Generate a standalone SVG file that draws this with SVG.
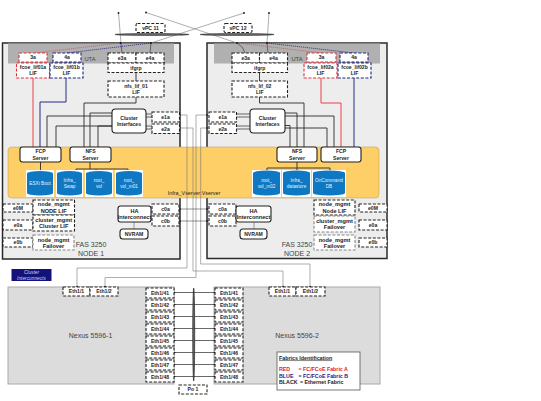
<svg xmlns="http://www.w3.org/2000/svg" width="541" height="401" viewBox="0 0 541 401">
<style>
text{font-family:"Liberation Sans",Arial,sans-serif;font-size:5.1px;font-weight:bold;fill:#222;text-anchor:middle}
.d rect,rect.d{fill:#fff;stroke:#222;stroke-width:1.1;stroke-dasharray:3 1.6}
.r rect{stroke:#e0303c}
.b rect{stroke:#22227f}
.g rect{stroke:#888}
.s rect{fill:#fff;stroke:#222;stroke-width:1.1}
.p{fill:#ededed;stroke:#2a2a2a;stroke-width:1.5}
.u{fill:#b0b0b0}
.t{font-size:7px;font-weight:normal;fill:#444}
.m{font-size:5.6px}
.l{font-size:5.3px;text-anchor:start}
.w{fill:#e8f2fb;font-weight:normal;font-size:4.7px}
.cy{fill:#0e78c2}
.bg{fill:#fff}
.k{fill:none;stroke:#2a2a2a;stroke-width:.9}
.rl{fill:none;stroke:#e8404a;stroke-width:1}
.bl{fill:none;stroke:#2a2a85;stroke-width:1}
.tn{fill:none;stroke:#777;stroke-width:.6}
.gl{fill:none;stroke:#777;stroke-width:.7}
.rd{fill:none;stroke:#e0505a;stroke-width:.8;stroke-dasharray:1.2 .8}
.bd{fill:none;stroke:#2a2a85;stroke-width:.8;stroke-dasharray:1.2 .8}
.dot{fill:#111}
</style>
<g id="chassis">
<rect class="p" x="2.5" y="43" width="177.5" height="216"/>
<rect class="p" x="207" y="43" width="180" height="215.5"/>
<rect class="u" x="8" y="43.5" width="166" height="20"/>
<rect class="u" x="214" y="43.5" width="166" height="20"/>
<text x="90" y="60.5" style="font-size:5.8px;font-weight:normal;fill:#444">UTA</text>
<text x="297" y="60.5" style="font-size:5.8px;font-weight:normal;fill:#444">UTA</text>
<rect x="8" y="147" width="371" height="51" rx="3.5" fill="#fdcf66" stroke="#b89a50" stroke-width=".5"/>
<text x="194" y="195" style="font-weight:normal;font-size:5.4px">Infra_Vserver:Vserver</text>
<text class="t" x="91" y="246.5">FAS 3250</text>
<text class="t" x="91" y="255.5">NODE 1</text>
<text class="t" x="297" y="246.5">FAS 3250</text>
<text class="t" x="297" y="255.5">NODE 2</text>
<rect x="8" y="287" width="166" height="97" fill="#dcdcdc" stroke="#aaa"/>
<rect x="214" y="287" width="166" height="97" fill="#dcdcdc" stroke="#aaa"/>
<text class="t" x="90.5" y="337.5">Nexus 5596-1</text>
<text class="t" x="297" y="337.5">Nexus 5596-2</text>
</g>
<g id="connectors">
<path class="tn" d="M118.5 13L121 43M146 12.5L237 43M244 13L151 43M269 13L267 43"/>
<path class="k" d="M121 43L122 53M151 43L150 53M237 43Q244 47 245 53M267 43L268 53" style="stroke-width:.6"/>
<path class="rd" d="M120 43L35 53M237 43L322 53"/>
<path class="bd" d="M151 43L67 53M267 43L354 53"/>
<ellipse cx="152" cy="34.5" rx="37" ry="1" fill="#666" stroke="#222" stroke-width=".5"/>
<ellipse cx="237" cy="34.5" rx="37" ry="1" fill="#666" stroke="#222" stroke-width=".5"/>
<path class="rl" d="M33 78V147M321 78V103H341V147"/>
<path class="bl" d="M66 78V102H40V147M354 78V147"/>
<path class="k" d="M136 72V81M136 97V103H84V147M112 116H47V147M112 126H56V147M112 113H90V147M112 126H98V147"/>
<path class="k" d="M259.500 72V81M259.500 97V103H304V147M285 113H297V147M285 116H334V147M285 125.500H290V147M285 128H327V147"/>
<path class="k" d="M146 114H152M146 117H152M146 126H152M146 129H152M236 114H250M236 117H250M236 126H250M236 129H250" style="stroke-width:.7"/>
<path class="k" d="M40.500 162V171M90 162V169M76 171V169H128V171M96 169V171"/>
<path class="k" d="M297 162V168M267 170V168H330V170M297 168V170"/>
<path class="tn" d="M180 115H187V268H77V287M180 128H193V271H283V287M207 115H196V277.500H105V287M207 128H200.700V264H310V287"/>
<path class="k" d="M180 209H209M180 221H209" style="stroke-width:.5"/>
<path class="gl" d="M134 222V229M254 222V229"/>
<path class="k" d="M174 292.500H215M174 304.500H215M174 316.500H215M174 328.500H215M174 340.500H215M174 352.500H215M174 364.500H215M174 376.500H215" style="stroke-width:.7"/>
<ellipse cx="193.700" cy="334.500" rx="1" ry="46.500" fill="#666" stroke="#111" stroke-width=".6"/>
<g class="dot"><circle cx="118.500" cy="13" r=".9"/><circle cx="146" cy="12.500" r=".9"/><circle cx="244" cy="13" r=".9"/><circle cx="269" cy="13" r=".9"/><circle cx="120.500" cy="43" r=".9"/><circle cx="151" cy="43" r=".9"/><circle cx="237" cy="43" r=".9"/><circle cx="267" cy="43" r=".9"/><circle cx="180" cy="115" r=".8"/><circle cx="180" cy="128" r=".8"/><circle cx="207" cy="115" r=".8"/><circle cx="207" cy="128" r=".8"/><circle cx="180" cy="209" r=".8"/><circle cx="180" cy="221" r=".8"/><circle cx="207" cy="209" r=".8"/><circle cx="207" cy="221" r=".8"/><circle cx="174.500" cy="292.500" r=".8"/><circle cx="174.500" cy="304.500" r=".8"/><circle cx="174.500" cy="316.500" r=".8"/><circle cx="174.500" cy="328.500" r=".8"/><circle cx="174.500" cy="340.500" r=".8"/><circle cx="174.500" cy="352.500" r=".8"/><circle cx="174.500" cy="364.500" r=".8"/><circle cx="174.500" cy="376.500" r=".8"/><circle cx="214.500" cy="292.500" r=".8"/><circle cx="214.500" cy="304.500" r=".8"/><circle cx="214.500" cy="316.500" r=".8"/><circle cx="214.500" cy="328.500" r=".8"/><circle cx="214.500" cy="340.500" r=".8"/><circle cx="214.500" cy="352.500" r=".8"/><circle cx="214.500" cy="364.500" r=".8"/><circle cx="214.500" cy="376.500" r=".8"/><circle cx="77" cy="286.500" r=".8"/><circle cx="105" cy="286.500" r=".8"/><circle cx="283" cy="286.500" r=".8"/><circle cx="310" cy="286.500" r=".8"/></g>
</g>
<g id="vpc11" class="d"><rect x="136" y="23.500" width="29" height="9" rx="1.500"/><text x="150.500" y="29.800">vPC 11</text></g>
<g id="vpc12" class="d"><rect x="224" y="23.500" width="28" height="9" rx="1.500"/><text x="238" y="29.800">vPC 12</text></g>
<g id="n1-3a" class="d r"><rect x="19" y="53" width="28" height="9"/><text x="33" y="59.300">3a</text></g>
<g id="n1-4a" class="d b"><rect x="53" y="53" width="28" height="9"/><text x="67" y="59.300">4a</text></g>
<g id="n1-fcoe-a" class="d r"><rect x="16.500" y="63" width="33" height="15"/><text x="33" y="69">fcoe_lif01a</text><text x="33" y="75">LIF</text></g>
<g id="n1-fcoe-b" class="d b"><rect x="50" y="63" width="33" height="15"/><text x="66.500" y="69">fcoe_lif01b</text><text x="66.500" y="75">LIF</text></g>
<g id="n1-e3a" class="d"><rect x="108" y="53" width="28" height="10"/><text x="122" y="59.800">e3a</text></g>
<g id="n1-e4a" class="d"><rect x="136" y="53" width="28" height="10"/><text x="150" y="59.800">e4a</text></g>
<g id="n1-ifgrp" class="d"><rect x="108" y="63" width="56" height="9.500"/><text x="136" y="69.500">ifgrp</text></g>
<g id="n1-nfslif" class="d"><rect x="108" y="81" width="56" height="16"/><text x="136" y="87.500">nfs_lif_01</text><text x="136" y="94">LIF</text></g>
<g id="n1-cluster" class="s"><rect x="112" y="109" width="34" height="24" rx="3.500"/><text x="129" y="119.500">Cluster</text><text x="129" y="125.500">Interfaces</text></g>
<g id="n1-e1a" class="d"><rect x="152" y="112" width="27.500" height="10"/><text x="165.500" y="118.800">e1a</text></g>
<g id="n1-e2a" class="d"><rect x="152" y="124" width="27.500" height="9.500"/><text x="165.500" y="130.500">e2a</text></g>
<g id="n1-fcp" class="s"><rect x="20" y="147" width="41" height="15" rx="2.500"/><text x="40.500" y="153">FCP</text><text x="40.500" y="159.500">Server</text></g>
<g id="n1-nfs" class="s"><rect x="70" y="147" width="41" height="15" rx="2.500"/><text x="90.500" y="153">NFS</text><text x="90.500" y="159.500">Server</text></g>
<g id="n1-boot"><rect class="bg" x="26" y="170" width="28" height="27"/><path class="cy" d="M27 173.500a13 2.500 0 0 1 26 0V193a13 2.500 0 0 1-26 0Z"/><text class="w" x="40" y="184.500">ESXi Boot</text></g>
<g id="n1-swap"><rect class="bg" x="56" y="170" width="27" height="27"/><path class="cy" d="M57 173.500a12.500 2.500 0 0 1 25 0V193a12.500 2.500 0 0 1-25 0Z"/><text class="w" x="69.500" y="181.500">Infra_</text><text class="w" x="69.500" y="187.500">Swap</text></g>
<g id="n1-root"><rect class="bg" x="85" y="170" width="28" height="27"/><path class="cy" d="M86 173.500a13 2.500 0 0 1 26 0V193a13 2.500 0 0 1-26 0Z"/><text class="w" x="99" y="181.500">root_</text><text class="w" x="99" y="187.500">vol</text></g>
<g id="n1-m01"><rect class="bg" x="115" y="170" width="28" height="27"/><path class="cy" d="M116 173.500a13 2.500 0 0 1 26 0V193a13 2.500 0 0 1-26 0Z"/><text class="w" x="129" y="181.500">root_</text><text class="w" x="129" y="187.500">vol_m01</text></g>
<g id="n1-e0m" class="d"><rect x="3" y="204" width="30" height="8"/><text x="18" y="209.800">e0M</text></g>
<g id="n1-e0a" class="d"><rect x="3" y="220" width="30" height="10"/><text x="18" y="226.800">e0a</text></g>
<g id="n1-e0b" class="d"><rect x="3" y="238" width="30" height="9"/><text x="18" y="244.300">e0b</text></g>
<g id="n1-mgmt" class="d"><rect x="33" y="200" width="41.500" height="15"/><text class="m" x="53.700" y="206">node_mgmt</text><text class="m" x="53.700" y="212.500">NODE LIF</text></g>
<g id="n1-cmgmt" class="d"><rect x="33" y="215" width="41.500" height="16"/><text class="m" x="53.700" y="221.500">cluster_mgmt</text><text class="m" x="53.700" y="228">Cluster LIF</text></g>
<g id="n1-fail" class="d g"><rect x="33" y="235" width="41" height="15"/><text class="m" x="53.500" y="241.500">node_mgmt</text><text class="m" x="53.500" y="248">Failover</text></g>
<g id="n1-ha" class="s"><rect x="118" y="206" width="33" height="16" rx="2.500"/><text class="m" x="134.500" y="212.500">HA</text><text class="m" x="134.500" y="219">Interconnect</text></g>
<g id="n1-nvram" class="s"><rect x="120" y="229" width="28" height="10" rx="3"/><text x="134" y="236">NVRAM</text></g>
<g id="n1-c0a" class="d"><rect x="152" y="204" width="27" height="10"/><text x="165.500" y="210.800">c0a</text></g>
<g id="n1-c0b" class="d"><rect x="152" y="216" width="27" height="10"/><text x="165.500" y="222.800">c0b</text></g>
<g id="n2-3a" class="d r"><rect x="307" y="53" width="29" height="9"/><text x="321.500" y="59.300">3a</text></g>
<g id="n2-4a" class="d b"><rect x="340" y="53" width="28" height="9"/><text x="354" y="59.300">4a</text></g>
<g id="n2-fcoe-a" class="d r"><rect x="304" y="63" width="33" height="15"/><text x="320.500" y="69">fcoe_lif02a</text><text x="320.500" y="75">LIF</text></g>
<g id="n2-fcoe-b" class="d b"><rect x="338" y="63" width="33" height="15"/><text x="354.500" y="69">fcoe_lif02b</text><text x="354.500" y="75">LIF</text></g>
<g id="n2-e3a" class="d"><rect x="232" y="53" width="27.500" height="10"/><text x="245.700" y="59.800">e3a</text></g>
<g id="n2-e4a" class="d"><rect x="259.500" y="53" width="28" height="10"/><text x="273.500" y="59.800">e4a</text></g>
<g id="n2-ifgrp" class="d"><rect x="232" y="63" width="55.500" height="9.500"/><text x="259.700" y="69.500">ifgrp</text></g>
<g id="n2-nfslif" class="d"><rect x="232" y="81" width="55.500" height="16"/><text x="259.700" y="87.500">nfs_lif_02</text><text x="259.700" y="94">LIF</text></g>
<g id="n2-cluster" class="s"><rect x="250" y="109" width="35" height="24" rx="3.500"/><text x="267.500" y="119.500">Cluster</text><text x="267.500" y="125.500">Interfaces</text></g>
<g id="n2-e1a" class="d"><rect x="209" y="112" width="27.500" height="10"/><text x="222.700" y="118.800">e1a</text></g>
<g id="n2-e2a" class="d"><rect x="209" y="124" width="27.500" height="9.500"/><text x="222.700" y="130.500">e2a</text></g>
<g id="n2-nfs" class="s"><rect x="277" y="147" width="40" height="15" rx="2.500"/><text x="297" y="153">NFS</text><text x="297" y="159.500">Server</text></g>
<g id="n2-fcp" class="s"><rect x="321" y="147" width="40" height="15" rx="2.500"/><text x="341" y="153">FCP</text><text x="341" y="159.500">Server</text></g>
<g id="n2-m02"><rect class="bg" x="252" y="170" width="29" height="27"/><path class="cy" d="M253 173a13.500 2.500 0 0 1 27 0V193a13.500 2.500 0 0 1-27 0Z"/><text class="w" x="266.500" y="181.500">root_</text><text class="w" x="266.500" y="187.500">vol_m02</text></g>
<g id="n2-ds"><rect class="bg" x="282" y="170" width="29" height="27"/><path class="cy" d="M283 173a13.500 2.500 0 0 1 27 0V193a13.500 2.500 0 0 1-27 0Z"/><text class="w" x="296.500" y="181.500">Infra_</text><text class="w" x="296.500" y="187.500">datastore</text></g>
<g id="n2-db"><rect class="bg" x="312" y="170" width="34" height="27"/><path class="cy" d="M313 173a16 2.500 0 0 1 32 0V193a16 2.500 0 0 1-32 0Z"/><text class="w" x="329" y="181.500">OnCommand</text><text class="w" x="329" y="187.500">DB</text></g>
<g id="n2-c0a" class="d"><rect x="209" y="204" width="27" height="10"/><text x="222.500" y="210.800">c0a</text></g>
<g id="n2-c0b" class="d"><rect x="209" y="216" width="27" height="10"/><text x="222.500" y="222.800">c0b</text></g>
<g id="n2-ha" class="s"><rect x="236" y="206" width="35" height="16" rx="2.500"/><text class="m" x="253.500" y="212.500">HA</text><text class="m" x="253.500" y="219">Interconnect</text></g>
<g id="n2-nvram" class="s"><rect x="240" y="229" width="27" height="10" rx="3"/><text x="253.500" y="236">NVRAM</text></g>
<g id="n2-mgmt" class="d"><rect x="314" y="200" width="41" height="15"/><text class="m" x="334.500" y="206">node_mgmt</text><text class="m" x="334.500" y="212.500">Node LIF</text></g>
<g id="n2-cmgmt" class="d g"><rect x="314" y="216" width="41" height="16"/><text class="m" x="334.500" y="222.500">cluster_mgmt</text><text class="m" x="334.500" y="229">Failover</text></g>
<g id="n2-fail" class="d g"><rect x="314" y="235" width="41" height="15"/><text class="m" x="334.500" y="241.500">node_mgmt</text><text class="m" x="334.500" y="248">Failover</text></g>
<g id="n2-e0m" class="d"><rect x="359" y="204" width="28" height="8"/><text x="373" y="209.800">e0M</text></g>
<g id="n2-e0a" class="d"><rect x="359" y="220" width="28" height="10"/><text x="373" y="226.800">e0a</text></g>
<g id="n2-e0b" class="d"><rect x="359" y="238" width="28" height="9"/><text x="373" y="244.300">e0b</text></g>
<g id="cluster-interconnects"><rect x="11.500" y="269" width="40" height="12" fill="#12127a"/><text x="31.500" y="274" style="fill:#c8d4f0;font-weight:normal;font-style:italic;font-size:4.800px">Cluster</text><text x="31.500" y="279.800" style="fill:#c8d4f0;font-weight:normal;font-style:italic;font-size:4.800px">Interconnects</text></g>
<g id="nx1-eth1" class="d"><rect x="63" y="287" width="27" height="9"/><text x="76.500" y="293.300">Eth1/1</text></g>
<g id="nx1-eth2" class="d"><rect x="90" y="287" width="28" height="9"/><text x="104" y="293.300">Eth1/2</text></g>
<g id="nx2-eth1" class="d"><rect x="269" y="287" width="27" height="9"/><text x="282.500" y="293.300">Eth1/1</text></g>
<g id="nx2-eth2" class="d"><rect x="296" y="287" width="29" height="9"/><text x="310.500" y="293.300">Eth1/2</text></g>
<g id="nx1-41" class="d"><rect x="146" y="288" width="28" height="10"/><text x="160" y="294.600">Eth1/41</text></g>
<g id="nx1-42" class="d"><rect x="146" y="300" width="28" height="10"/><text x="160" y="306.600">Eth1/42</text></g>
<g id="nx1-43" class="d"><rect x="146" y="312" width="28" height="10"/><text x="160" y="318.600">Eth1/43</text></g>
<g id="nx1-44" class="d"><rect x="146" y="324" width="28" height="10"/><text x="160" y="330.600">Eth1/44</text></g>
<g id="nx1-45" class="d"><rect x="146" y="336" width="28" height="10"/><text x="160" y="342.600">Eth1/45</text></g>
<g id="nx1-46" class="d"><rect x="146" y="348" width="28" height="10"/><text x="160" y="354.600">Eth1/46</text></g>
<g id="nx1-47" class="d"><rect x="146" y="360" width="28" height="10"/><text x="160" y="366.600">Eth1/47</text></g>
<g id="nx1-48" class="d"><rect x="146" y="372" width="28" height="10"/><text x="160" y="378.600">Eth1/48</text></g>
<g id="nx2-41" class="d"><rect x="215" y="288" width="28" height="10"/><text x="229" y="294.600">Eth1/41</text></g>
<g id="nx2-42" class="d"><rect x="215" y="300" width="28" height="10"/><text x="229" y="306.600">Eth1/42</text></g>
<g id="nx2-43" class="d"><rect x="215" y="312" width="28" height="10"/><text x="229" y="318.600">Eth1/43</text></g>
<g id="nx2-44" class="d"><rect x="215" y="324" width="28" height="10"/><text x="229" y="330.600">Eth1/44</text></g>
<g id="nx2-45" class="d"><rect x="215" y="336" width="28" height="10"/><text x="229" y="342.600">Eth1/45</text></g>
<g id="nx2-46" class="d"><rect x="215" y="348" width="28" height="10"/><text x="229" y="354.600">Eth1/46</text></g>
<g id="nx2-47" class="d"><rect x="215" y="360" width="28" height="10"/><text x="229" y="366.600">Eth1/47</text></g>
<g id="nx2-48" class="d"><rect x="215" y="372" width="28" height="10"/><text x="229" y="378.600">Eth1/48</text></g>
<g id="po1" class="d"><rect x="179" y="385" width="28" height="9"/><text x="193" y="391.300">Po 1</text></g>
<g id="legend"><rect x="277" y="352" width="83" height="38" fill="#fff" stroke="#555" stroke-width=".8"/>
<text class="l" x="279" y="359.500" style="text-decoration:underline">Fabrics Identification</text>
<text class="l" x="279" y="371" style="fill:#e8202c">RED</text><text class="l" x="298.500" y="371" style="fill:#e8202c">= FC/FCoE Fabric A</text>
<text class="l" x="279" y="377.500" style="fill:#20208c">BLUE</text><text class="l" x="298.500" y="377.500" style="fill:#20208c">= FC/FCoE Fabric B</text>
<text class="l" x="279" y="384">BLACK</text><text class="l" x="300" y="384">= Ethernet Fabric</text></g>
</svg>
